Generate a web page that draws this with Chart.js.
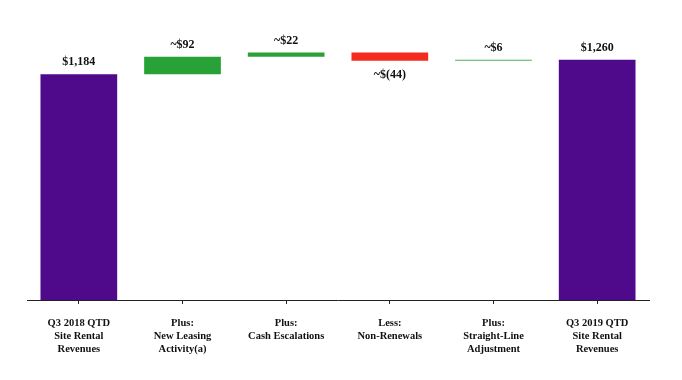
<!DOCTYPE html>
<html>
<head>
<meta charset="utf-8">
<script src="https://cdn.jsdelivr.net/npm/chart.js@4"></script>
<style>
html,body{margin:0;padding:0;background:#fff;}
#wrap{width:682px;height:380px;}
</style>
</head>
<body>
<div id="wrap"><canvas id="c" width="682" height="380"></canvas></div>
<script>
const categories = [
  ["Q3 2018 QTD","Site Rental","Revenues"],
  ["Plus:","New Leasing","Activity(a)"],
  ["Plus:","Cash Escalations"],
  ["Less:","Non-Renewals"],
  ["Plus:","Straight-Line","Adjustment"],
  ["Q3 2019 QTD","Site Rental","Revenues"]
];
const changes = [1184, 92, 22, -44, 6, 1260];
const isTotal = [true, false, false, false, false, true];
const valueLabels = ["$1,184","~$92","~$22","~$(44)","~$6","$1,260"];
const colors = ["#4f0a8c","#28a137","#28a137","#f42b1f","#4caf50","#4f0a8c"];

let run = 0;
const ranges = changes.map((v,i)=>{
  if (isTotal[i]) { run = v; return [0, v]; }
  const start = run; run = run + v; return [start, run];
});

const labelPlugin = {
  id: 'valueLabels',
  afterDatasetsDraw(chart){
    const ctx = chart.ctx;
    const meta = chart.getDatasetMeta(0);
    const y = chart.scales.y;
    ctx.save();
    ctx.font = 'bold 12px "Liberation Serif", "Times New Roman", serif';
    ctx.fillStyle = '#111';
    ctx.textAlign = 'center';
    ctx.textBaseline = 'middle';
    meta.data.forEach((bar,i)=>{
      const r = ranges[i];
      const top = y.getPixelForValue(Math.max(r[0],r[1]));
      const bot = y.getPixelForValue(Math.min(r[0],r[1]));
      if (changes[i] < 0) {
        ctx.fillText(valueLabels[i], bar.x, bot + 14);
      } else {
        ctx.fillText(valueLabels[i], bar.x, top - 12);
      }
    });
    ctx.restore();
  }
};

new Chart(document.getElementById('c'), {
  type: 'bar',
  data: {
    labels: categories,
    datasets: [{
      data: ranges,
      backgroundColor: colors,
      borderWidth: 0,
      barPercentage: 0.74,
      categoryPercentage: 1.0
    }]
  },
  options: {
    responsive: false,
    animation: false,
    layout: { padding: { left: 27, right: 33, top: 33, bottom: 0 } },
    plugins: { legend: { display: false }, tooltip: { enabled: false } },
    scales: {
      y: { display: false, min: 0, max: 1400 },
      x: {
        afterFit(scale){ scale.height = 80; },
        border: { display: true, color: '#222', width: 1 },
        grid: { display: true, offset: false, drawOnChartArea: false, drawTicks: true, tickLength: 4, color: '#222' },
        ticks: {
          color: '#111',
          padding: 13,
          maxRotation: 0,
          autoSkip: false,
          font: { family: '"Liberation Serif", "Times New Roman", serif', size: 10.5, weight: 'bold', lineHeight: 1.22 }
        }
      }
    }
  },
  plugins: [labelPlugin]
});
</script>
</body>
</html>
